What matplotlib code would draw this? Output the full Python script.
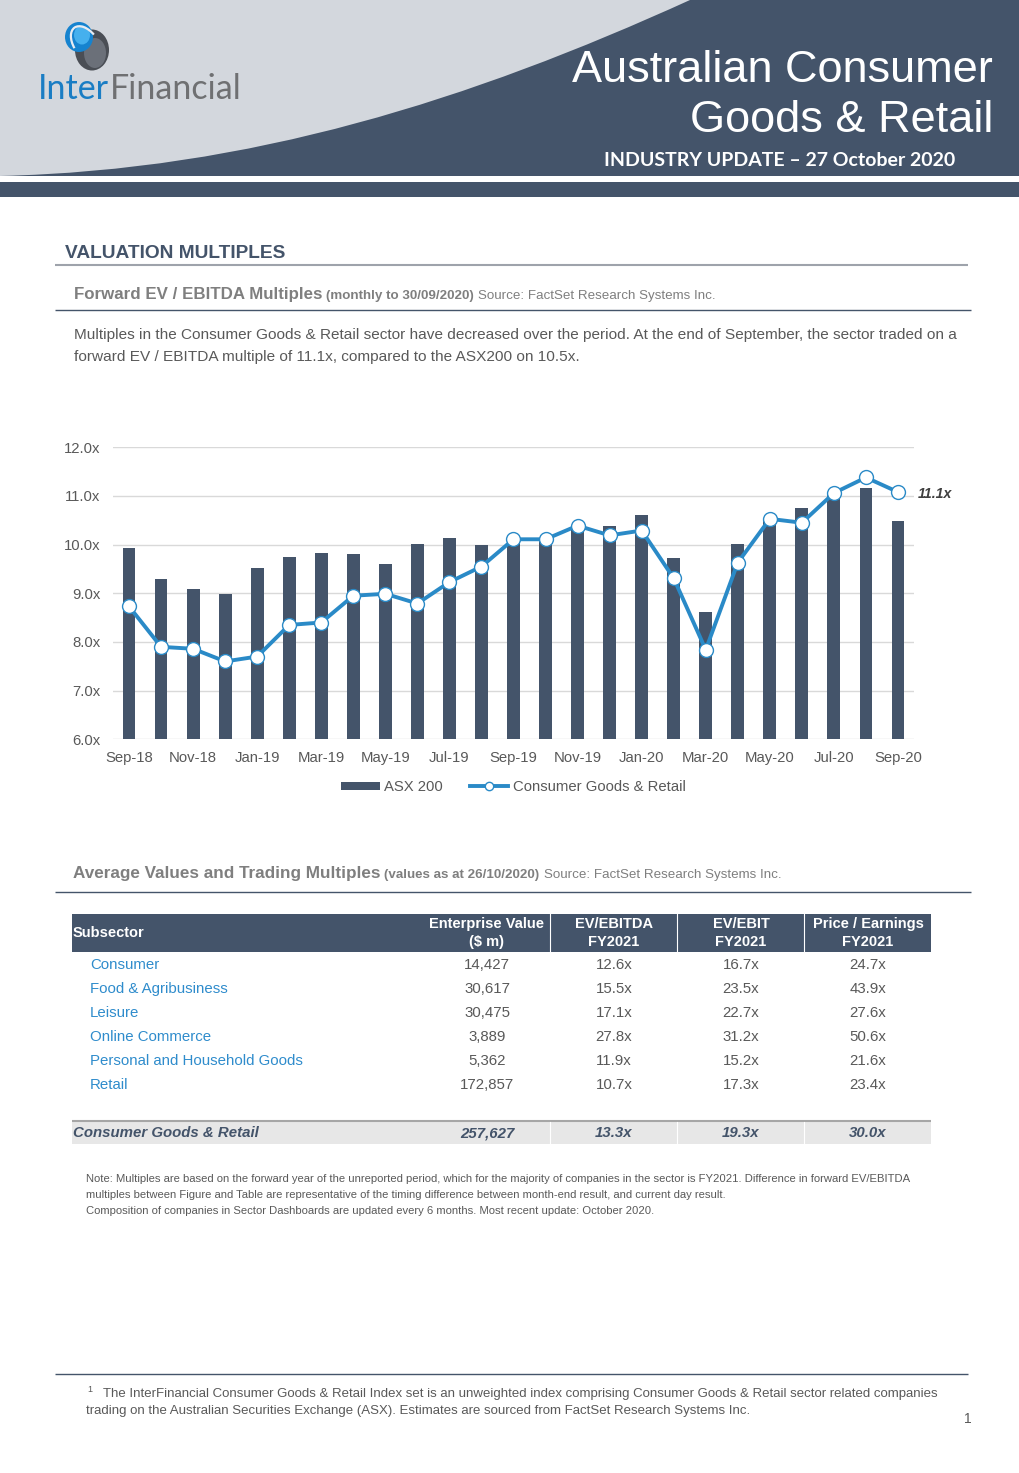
import numpy as np
import matplotlib
matplotlib.use("Agg")
import matplotlib.pyplot as plt
from matplotlib.patches import Rectangle, Ellipse, Arc, PathPatch
from matplotlib.path import Path
from matplotlib.ticker import FuncFormatter

# chart data
months = ["Sep-18", "Oct-18", "Nov-18", "Dec-18", "Jan-19", "Feb-19", "Mar-19", "Apr-19",
          "May-19", "Jun-19", "Jul-19", "Aug-19", "Sep-19", "Oct-19", "Nov-19", "Dec-19",
          "Jan-20", "Feb-20", "Mar-20", "Apr-20", "May-20", "Jun-20", "Jul-20", "Aug-20", "Sep-20"]
asx200 = [9.94, 9.30, 9.08, 8.99, 9.52, 9.75, 9.82, 9.80, 9.61, 10.01, 10.13, 9.99,
          10.05, 10.10, 10.38, 10.39, 10.60, 9.73, 8.61, 10.01, 10.50, 10.75, 11.02, 11.17, 10.48]
cgr = [8.73, 7.90, 7.86, 7.60, 7.70, 8.35, 8.40, 8.95, 8.99, 8.79, 9.23, 9.55,
       10.11, 10.11, 10.39, 10.19, 10.29, 9.31, 7.84, 9.63, 10.53, 10.45, 11.06, 11.38, 11.08]

# table data
subsectors = ["Consumer", "Food & Agribusiness", "Leisure", "Online Commerce",
              "Personal and Household Goods", "Retail"]
ev = ["14,427", "30,617", "30,475", "3,889", "5,362", "172,857"]
ev_ebitda = ["12.6x", "15.5x", "17.1x", "27.8x", "11.9x", "10.7x"]
ev_ebit = ["16.7x", "23.5x", "22.7x", "31.2x", "15.2x", "17.3x"]
pe = ["24.7x", "43.9x", "27.6x", "50.6x", "21.6x", "23.4x"]
total = ["Consumer Goods & Retail", "257,627", "13.3x", "19.3x", "30.0x"]
col_heads = [("Enterprise Value", "($ m)"), ("EV/EBITDA", "FY2021"),
             ("EV/EBIT", "FY2021"), ("Price / Earnings", "FY2021")]

navy = "#44546a"
light = "#d3d7dd"
blue = "#2a8ac7"
grey_txt = "#595959"
sub_blue = "#2f8ccc"
ARIAL = "Liberation Sans"

fig = plt.figure(figsize=(10.2, 14.73), dpi=100)
bg = fig.add_axes([0, 0, 1, 1])
bg.set_xlim(0, 1020)
bg.set_ylim(1473, 0)
bg.axis("off")
renderer = fig.canvas.get_renderer()


def run_text(x, y, parts):
    # put pieces of text one after another on the same baseline
    for s, gap, kw in parts:
        t = bg.text(x, y, s, va="baseline", **kw)
        x += t.get_window_extent(renderer=renderer).width + gap


# ---- header ----
bg.add_patch(Rectangle((0, 0), 1020, 176, color=light, lw=0))
verts = [(0, 176), (250, 170), (470, 100), (690, 0),
         (1020, 0), (1020, 176), (0, 176)]
codes = [Path.MOVETO, Path.CURVE4, Path.CURVE4, Path.CURVE4,
         Path.LINETO, Path.LINETO, Path.CLOSEPOLY]
bg.add_patch(PathPatch(Path(verts, codes), color=navy, lw=0))
bg.add_patch(Rectangle((0, 182), 1020, 15, color=navy, lw=0))

# logo mark
bg.add_patch(Ellipse((92, 50), 34, 41, color="#4a4e55", lw=0))
bg.add_patch(Ellipse((95, 53), 22, 30, color="#6b7079", lw=0))
bg.add_patch(Ellipse((79, 37), 28, 30, color="#1683cf", lw=0))
bg.add_patch(Ellipse((82, 35), 16, 19, color="#45b0ee", lw=0))
bg.add_patch(Arc((86, 44), 24, 40, angle=-35, theta1=195, theta2=345, color="#e8ecf2", lw=1.6))

run_text(38, 99, [("Inter", 1, dict(fontsize=24.5, color="#1a7dc4", family="Lato")),
                  ("Financial", 0, dict(fontsize=24.5, color="#6f7072", family="Lato"))])

bg.text(993, 82, "Australian Consumer", ha="right", va="baseline", fontsize=32.5,
        color="white", family=ARIAL)
bg.text(993, 132, "Goods & Retail", ha="right", va="baseline", fontsize=32.5,
        color="white", family=ARIAL)
bg.text(955, 166, "INDUSTRY UPDATE \u2013 27 October 2020", ha="right", va="baseline",
        fontsize=14, color="white", family="Lato", fontweight="bold")

# ---- section 1 ----
bg.text(65, 258, "VALUATION MULTIPLES", va="baseline", fontsize=13.8, fontweight="bold",
        color=navy, family=ARIAL)
bg.plot([55, 968], [265, 265], color="#9ea3ab", lw=1.5, solid_capstyle="butt")

run_text(74, 299, [("Forward EV / EBITDA Multiples", 4, dict(fontsize=12.2, fontweight="bold", color="#7f7f7f", family=ARIAL)),
                   ("(monthly to 30/09/2020)", 4, dict(fontsize=9.6, fontweight="bold", color="#7f7f7f", family=ARIAL)),
                   ("Source: FactSet Research Systems Inc.", 0, dict(fontsize=9.6, color="#7f7f7f", family=ARIAL))])
bg.plot([55, 971], [310, 310], color=navy, lw=1, solid_capstyle="butt")

bg.text(74, 339, "Multiples in the Consumer Goods & Retail sector have decreased over the period. "
        "At the end of September, the sector traded on a", va="baseline", fontsize=11.1,
        color=grey_txt, family=ARIAL)
bg.text(74, 361, "forward EV / EBITDA multiple of 11.1x, compared to the ASX200 on 10.5x.",
        va="baseline", fontsize=11.1, color=grey_txt, family=ARIAL)

# ---- chart ----
ax = fig.add_axes([113 / 1020, 1 - 739.3 / 1473, 801 / 1020, 292 / 1473])
ax.patch.set_alpha(0)
x = np.arange(len(months))
bars = ax.bar(x, asx200, width=0.4, color=navy, zorder=2, label="ASX 200")
line, = ax.plot(x, cgr, "-o", color=blue, lw=2.8, ms=10, mfc="white", mec=blue, mew=1.0,
                zorder=3, label="Consumer Goods & Retail")
ax.set_ylim(6, 12)
ax.set_xlim(-0.5, 24.5)
ax.set_yticks(np.arange(6, 12.5, 1))
ax.yaxis.set_major_formatter(FuncFormatter(lambda v, p: "{:.1f}x".format(v)))
ax.set_xticks(x[::2])
ax.set_xticklabels(months[::2])
ax.grid(axis="y", color="#d9d9d9", lw=1)
ax.set_axisbelow(True)
for s in ax.spines.values():
    s.set_visible(False)
ax.tick_params(axis="both", length=0, labelsize=10.7, labelcolor=grey_txt)
ax.tick_params(axis="y", pad=9)
ax.tick_params(axis="x", pad=8.5)
for lab in ax.get_xticklabels() + ax.get_yticklabels():
    lab.set_family(ARIAL)
ax.annotate("{:.1f}x".format(cgr[-1]), xy=(x[-1], cgr[-1]), xytext=(14, -1.5),
            textcoords="offset points", va="center", ha="left", fontsize=10.2,
            fontweight="bold", fontstyle="italic", color="#404040", family=ARIAL,
            annotation_clip=False)
leg = ax.legend(handles=[bars, line], loc="center", bbox_to_anchor=(0.5, -0.163), ncol=2,
                frameon=False, handlelength=2.6, handleheight=0.45, handletextpad=0.3,
                columnspacing=1.8, markerscale=0.6, prop=dict(family=ARIAL, size=10.7))
for t in leg.get_texts():
    t.set_color(grey_txt)

# ---- section 2 ----
run_text(73, 878, [("Average Values and Trading Multiples", 4, dict(fontsize=12.3, fontweight="bold", color="#7f7f7f", family=ARIAL)),
                   ("(values as at 26/10/2020)", 4, dict(fontsize=9.6, fontweight="bold", color="#7f7f7f", family=ARIAL)),
                   ("Source: FactSet Research Systems Inc.", 0, dict(fontsize=9.6, color="#7f7f7f", family=ARIAL))])
bg.plot([55, 971], [892, 892], color=navy, lw=1, solid_capstyle="butt")

col_x = [487, 614, 741, 868]
seps = [550, 677, 804]
bg.add_patch(Rectangle((72, 914), 859, 38, color=navy, lw=0))
bg.text(73, 933, "Subsector", va="center", fontsize=10.5, fontweight="bold", color="white", family=ARIAL)
for cx, (h1, h2) in zip(col_x, col_heads):
    bg.text(cx, 924, h1, ha="center", va="center", fontsize=10.5, fontweight="bold", color="white", family=ARIAL)
    bg.text(cx, 942, h2, ha="center", va="center", fontsize=10.5, fontweight="bold", color="white", family=ARIAL)
for sx in seps:
    bg.plot([sx, sx], [914, 952], color="white", lw=0.8)

for i, name in enumerate(subsectors):
    ry = 965 + 24 * i
    bg.text(90, ry, name, va="center", fontsize=10.8, color=sub_blue, family=ARIAL)
    for cx, val in zip(col_x, [ev[i], ev_ebitda[i], ev_ebit[i], pe[i]]):
        bg.text(cx, ry, val, ha="center", va="center", fontsize=10.8, color=grey_txt, family=ARIAL)

bg.add_patch(Rectangle((72, 1122), 859, 22, color="#e7e7e7", lw=0))
bg.plot([72, 931], [1121, 1121], color="#a6a6a6", lw=1.5, solid_capstyle="butt")
for sx in seps:
    bg.plot([sx, sx], [1122, 1144], color="white", lw=0.8)
bg.text(73, 1133, total[0], va="center", fontsize=10.8, fontweight="bold", fontstyle="italic",
        color=navy, family=ARIAL)
for cx, val in zip(col_x, total[1:]):
    bg.text(cx, 1133, val, ha="center", va="center", fontsize=10.8, fontweight="bold",
            fontstyle="italic", color=navy, family=ARIAL)

notes = ["Note: Multiples are based on the forward year of the unreported period, which for the majority of companies in the sector is FY2021. Difference in forward EV/EBITDA",
         "multiples between Figure and Table are representative of the timing difference between month-end result, and current day result.",
         "Composition of companies in Sector Dashboards are updated every 6 months. Most recent update: October 2020."]
for i, n in enumerate(notes):
    bg.text(86, 1182 + 16 * i, n, va="baseline", fontsize=8.1, color=grey_txt, family=ARIAL)

# ---- footer ----
bg.plot([55, 968], [1374, 1374], color=navy, lw=1, solid_capstyle="butt")
bg.text(87, 1392, "1", va="baseline", fontsize=6.5, color=grey_txt, family=ARIAL)
bg.text(103, 1397, "The InterFinancial Consumer Goods & Retail Index set is an unweighted index comprising "
        "Consumer Goods & Retail sector related companies", va="baseline", fontsize=9.5,
        color=grey_txt, family=ARIAL)
bg.text(86, 1414, "trading on the Australian Securities Exchange (ASX). Estimates are sourced from "
        "FactSet Research Systems Inc.", va="baseline", fontsize=9.5, color=grey_txt, family=ARIAL)
bg.text(972, 1423, "1", ha="right", va="baseline", fontsize=10, color=grey_txt, family=ARIAL)

fig.savefig("out.png", dpi=100)
